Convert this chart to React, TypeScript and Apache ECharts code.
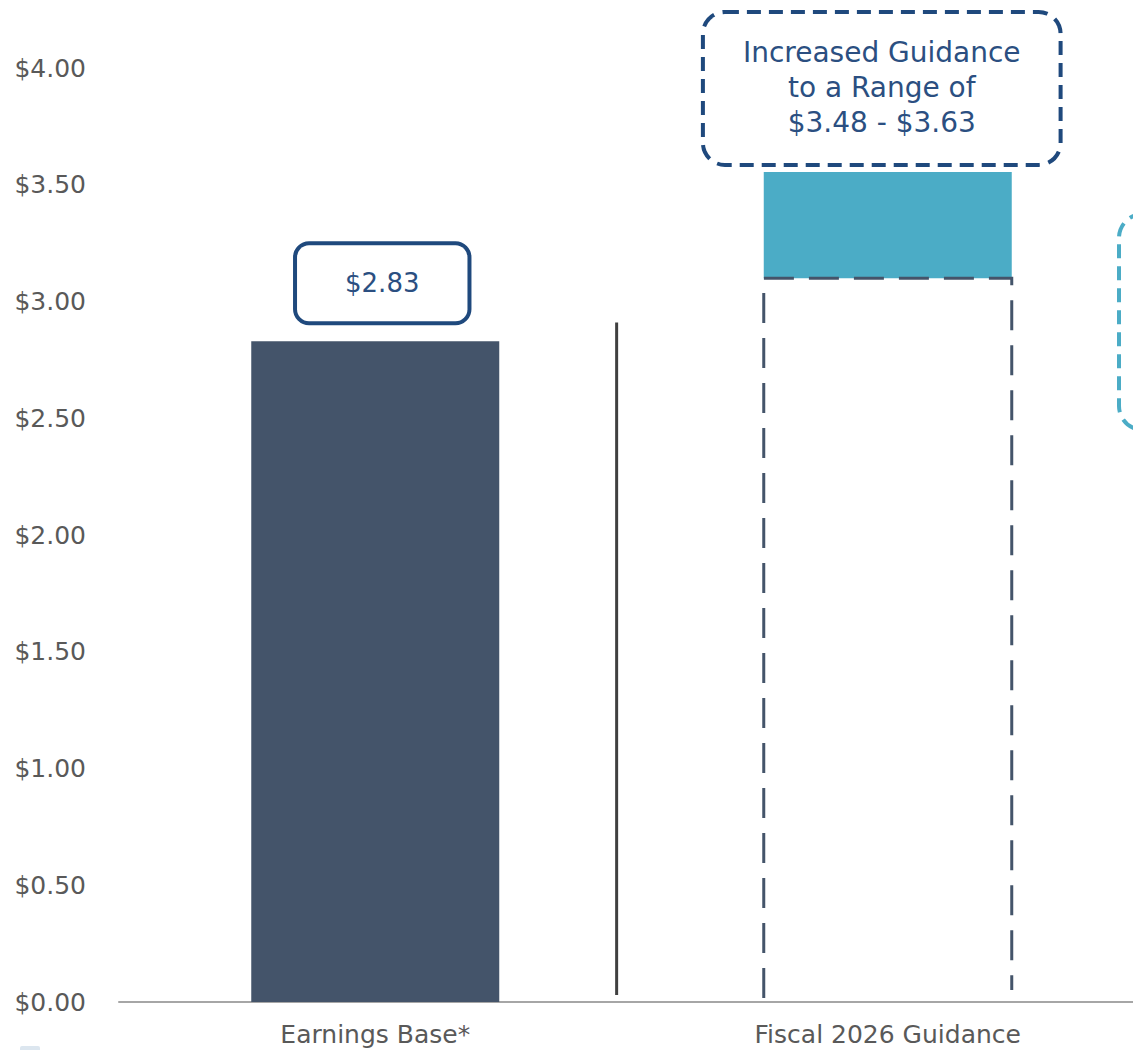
import React, { useEffect, useRef } from "react";
import * as echarts from "echarts";

const categories = ["Earnings Base*", "Fiscal 2026 Guidance"];
const earningsValues = [2.83, null];
const guidanceBaseValues = [null, 3.1];
const guidanceRangeValues = [null, 0.455];
const earningsLabel = "$2.83";
const guidanceLabel = "Increased Guidance\nto a Range of\n$3.48 - $3.63";
const yMin = 0;
const yMax = 4;
const yInterval = 0.5;
const separatorRange = [0.03, 2.91];

const FONT = "'DejaVu Sans', sans-serif";
const DARK = "#44546A";
const TEAL = "#4BACC6";
const NAVY = "#1F497D";
const NAVY_TEXT = "#2B4F81";
const GRAY_TEXT = "#595959";
const BAR_W = 248;

export default function App() {
  const ref = useRef<HTMLDivElement>(null);
  useEffect(() => {
    if (!ref.current) return;
    const chart = echarts.init(ref.current, undefined, { renderer: "svg" });
    chart.setOption({
      animation: false,
      backgroundColor: "#ffffff",
      textStyle: { fontFamily: FONT },
      grid: { left: 119, top: 68, right: 0, bottom: 48, containLabel: false },
      xAxis: {
        type: "category",
        data: categories,
        axisLine: { show: true, lineStyle: { color: "#A6A6A6", width: 2 } },
        axisTick: { show: false },
        axisLabel: { color: GRAY_TEXT, fontSize: 25, margin: 20, fontFamily: FONT },
      },
      yAxis: {
        type: "value",
        min: yMin,
        max: yMax,
        interval: yInterval,
        axisLine: { show: false },
        axisTick: { show: false },
        splitLine: { show: false },
        axisLabel: {
          color: GRAY_TEXT,
          fontSize: 25,
          margin: 33,
          fontFamily: FONT,
          formatter: (v: number) => "$" + v.toFixed(2),
        },
      },
      series: [
        {
          type: "bar",
          stack: "total",
          barWidth: BAR_W,
          data: earningsValues,
          itemStyle: { color: DARK },
          z: 3,
          label: {
            show: true,
            position: "top",
            distance: 20,
            offset: [7, 0],
            formatter: () => earningsLabel,
            color: NAVY_TEXT,
            fontSize: 26,
            lineHeight: 30,
            fontFamily: FONT,
            padding: [23, 48, 23, 48],
            borderColor: NAVY,
            borderWidth: 4,
            borderRadius: 12,
            backgroundColor: "#ffffff",
          },
        },
        {
          type: "bar",
          stack: "total",
          barWidth: BAR_W,
          data: guidanceBaseValues,
          itemStyle: { color: "rgba(0,0,0,0)" },
          silent: true,
        },
        {
          type: "bar",
          stack: "total",
          barWidth: BAR_W,
          data: guidanceRangeValues,
          itemStyle: { color: TEAL },
          label: {
            show: true,
            position: "top",
            distance: 9,
            offset: [-6, 0],
            formatter: () => guidanceLabel,
            color: NAVY_TEXT,
            fontSize: 28,
            lineHeight: 35,
            fontFamily: FONT,
            align: "center",
            padding: [21, 38, 23, 38],
            borderColor: NAVY,
            borderWidth: 4,
            borderType: [14, 8],
            borderRadius: 20,
            backgroundColor: "#ffffff",
          },
        },
        {
          type: "custom",
          data: guidanceBaseValues.map((v, i) => [i, v]),
          z: 4,
          renderItem: (params: any, api: any) => {
            const v = api.value(1);
            if (v == null || isNaN(v)) return null;
            const idx = api.value(0);
            const top = api.coord([idx, v]);
            const bot = api.coord([idx, 0]);
            const half = BAR_W / 2;
            return {
              type: "polyline",
              shape: {
                points: [
                  [top[0] - half, bot[1] - 4],
                  [top[0] - half, top[1]],
                  [top[0] + half, top[1]],
                  [top[0] + half, bot[1] - 12],
                ],
              },
              style: { fill: "none", stroke: DARK, lineWidth: 3, lineDash: [30, 15] },
            };
          },
        },
      ],
    });

    const c0 = chart.convertToPixel({ xAxisIndex: 0 }, categories[0]) as number;
    const c1 = chart.convertToPixel({ xAxisIndex: 0 }, categories[1]) as number;
    const sx = c0 + (c1 - c0) * 0.471;
    const yTop = chart.convertToPixel({ yAxisIndex: 0 }, separatorRange[1]) as number;
    const yBot = chart.convertToPixel({ yAxisIndex: 0 }, separatorRange[0]) as number;

    chart.setOption({
      graphic: [
        {
          type: "line",
          shape: { x1: sx, y1: yTop, x2: sx, y2: yBot },
          style: { stroke: "#404040", lineWidth: 3 },
        },
        {
          type: "rect",
          shape: { x: 1119, y: 214, width: 120, height: 216, r: 24 },
          style: { fill: "none", stroke: TEAL, lineWidth: 4, lineDash: [14, 8] },
        },
        {
          type: "rect",
          shape: { x: 20, y: 1046, width: 20, height: 10, r: 2 },
          style: { fill: "#DCE6EF" },
        },
      ],
    });

    return () => chart.dispose();
  }, []);

  return (
    <div
      style={{
        position: "absolute",
        left: 0,
        top: 0,
        width: 1133,
        height: 1050,
        overflow: "hidden",
      }}
    >
      <div ref={ref} style={{ width: 1144, height: 1050 }} />
    </div>
  );
}
